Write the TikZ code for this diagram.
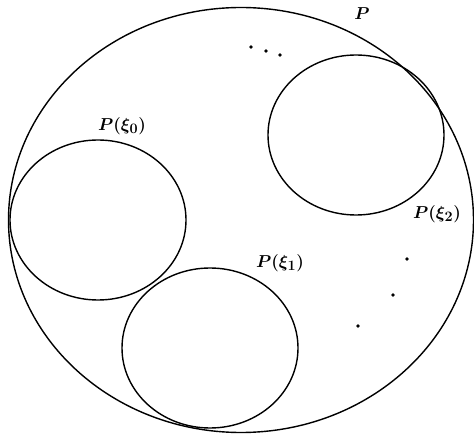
\documentclass[tikz,border=0pt]{standalone}
\usepackage{amsmath}
\usepackage{bm}
\usetikzlibrary{shapes.geometric}

\begin{document}
\begin{tikzpicture}[
    x=1pt, y=-1pt,
    set/.style={
        draw, ellipse, inner sep=0pt, line width=1.4pt
    },
    subset/.style={
        set, minimum width=176pt, minimum height=160pt
    },
    setlabel/.style={font=\fontsize{19}{22}\selectfont},
    dot/.style={circle, fill=black, inner sep=0pt, minimum size=3.8pt},
]
\useasboundingbox (0,0) rectangle (474,438);

% ===== Outer set =====
\node[set, minimum width=465pt, minimum height=425pt] (whole) at (241,220) {};
\node[setlabel] (wholelab) at (362,14) {$\bm{P}$};

% ===== Sub sets =====
\node[subset] (xi0) at (98,220) {};
\node[subset] (xi1) at (210,348) {};
\node[subset] (xi2) at (356,135) {};

\node[setlabel] (xi0lab) at (122,126) {$\bm{P(\xi_0)}$};
\node[setlabel] (xi1lab) at (280,263) {$\bm{P(\xi_1)}$};
\node[setlabel] (xi2lab) at (437,214) {$\bm{P(\xi_2)}$};

% ===== Dots =====
\node[dot] (d1) at (251,47) {};
\node[dot] (d2) at (266,51) {};
\node[dot] (d3) at (280,55) {};
\node[dot] (d4) at (407,259) {};
\node[dot] (d5) at (393,295) {};
\node[dot] (d6) at (358,326) {};

\end{tikzpicture}
\end{document}
